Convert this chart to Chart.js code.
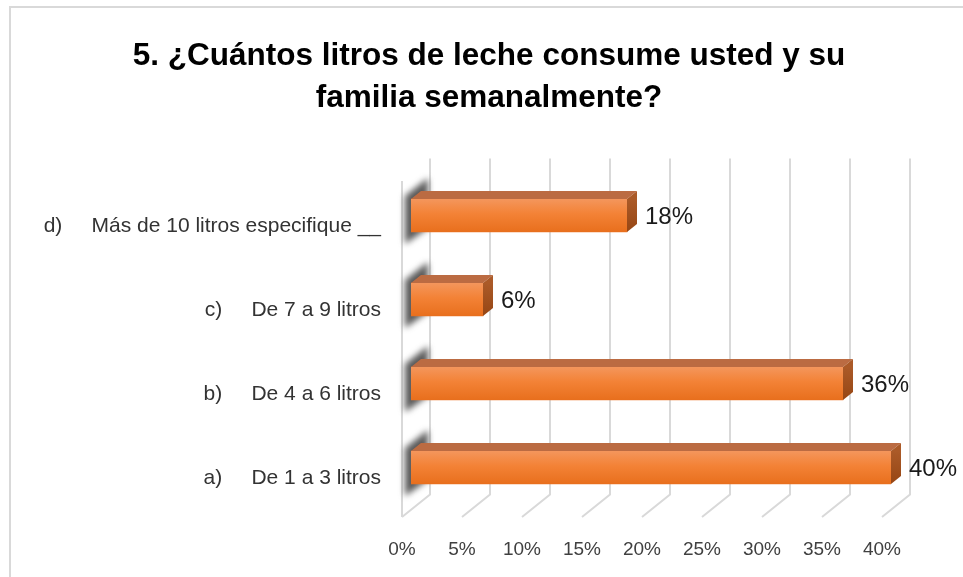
<!DOCTYPE html>
<html>
<head>
<meta charset="utf-8">
<script src="https://cdn.jsdelivr.net/npm/chart.js@4.4.0/dist/chart.umd.min.js"></script>
<style>
    html, body { margin: 0; padding: 0; background: #fff; }
    #wrap { width: 963px; height: 577px; position: relative; }
</style>
</head>
<body>
<div id="wrap"><canvas id="myChart"></canvas></div>
<script>
// data, top bar first
const categories = [
    "d)     Más de 10 litros especifique __",
    "c)     De 7 a 9 litros",
    "b)     De 4 a 6 litros",
    "a)     De 1 a 3 litros",
];
const values = [18, 6, 36, 40];
const xTicks = [0, 5, 10, 15, 20, 25, 30, 35, 40];
const titleLines = ["5. ¿Cuántos litros de leche consume usted y su", "familia semanalmente?"];

const FONT = "'Liberation Sans', Arial, sans-serif";
// 3d offsets, relative to the plane of the bars' front faces
const FRONT = { dx: -9, dy: 7.5 };
const BACK = { dx: 19, dy: -15 };
const DEPTH = { dx: 10, dy: -8 };

const box3d = {
    id: "box3d",
    beforeDraw(chart) {
        const ctx = chart.ctx;
        ctx.save();
        ctx.strokeStyle = "#d9d9d9";
        ctx.lineWidth = 2;
        ctx.beginPath();
        ctx.moveTo(963, 7);
        ctx.lineTo(10, 7);
        ctx.lineTo(10, 577);
        ctx.stroke();

        // title, centred on the whole frame rather than the plot
        ctx.fillStyle = "#000000";
        ctx.font = "bold 31.5px " + FONT;
        ctx.textAlign = "center";
        ctx.textBaseline = "middle";
        titleLines.forEach((t, i) => {
            ctx.fillText(t, 489, 56 + i * 42);
        });
        ctx.restore();
    },
    beforeDatasetsDraw(chart) {
        const ctx = chart.ctx;
        const ca = chart.chartArea;
        const xs = chart.scales.x;
        ctx.save();
        ctx.strokeStyle = "#d9d9d9";
        ctx.lineWidth = 2;
        // back wall + floor grid
        xTicks.forEach((v) => {
            const px = xs.getPixelForValue(v);
            ctx.beginPath();
            ctx.moveTo(px + BACK.dx, ca.top + BACK.dy);
            ctx.lineTo(px + BACK.dx, ca.bottom + BACK.dy);
            ctx.lineTo(px + FRONT.dx, ca.bottom + FRONT.dy);
            ctx.stroke();
        });
        // left wall front edge
        ctx.beginPath();
        ctx.moveTo(ca.left + FRONT.dx, ca.top + FRONT.dy);
        ctx.lineTo(ca.left + FRONT.dx, ca.bottom + FRONT.dy);
        ctx.stroke();

        // bar shadows on the left wall
        const meta = chart.getDatasetMeta(0);
        ctx.filter = "blur(3px)";
        ctx.fillStyle = "rgba(60,60,60,0.85)";
        meta.data.forEach((el) => {
            const top = el.y - el.height / 2;
            const bottom = el.y + el.height / 2;
            const l = el.base - 6;
            const r = el.base + 17;
            ctx.beginPath();
            ctx.moveTo(l, top - 3);
            ctx.lineTo(r, top - 21);
            ctx.lineTo(r, bottom - 4);
            ctx.lineTo(l, bottom + 12);
            ctx.closePath();
            ctx.fill();
        });
        ctx.filter = "none";
        ctx.restore();
    },
    afterDatasetsDraw(chart) {
        const ctx = chart.ctx;
        const meta = chart.getDatasetMeta(0);
        ctx.save();
        meta.data.forEach((el, i) => {
            const top = el.y - el.height / 2;
            const bottom = el.y + el.height / 2;
            const x0 = el.base;
            const x1 = el.x;

            // top face
            ctx.fillStyle = "#bb6b42";
            ctx.beginPath();
            ctx.moveTo(x0, top);
            ctx.lineTo(x1, top);
            ctx.lineTo(x1 + DEPTH.dx, top + DEPTH.dy);
            ctx.lineTo(x0 + DEPTH.dx, top + DEPTH.dy);
            ctx.closePath();
            ctx.fill();

            // right face
            const sg = ctx.createLinearGradient(0, top, 0, bottom);
            sg.addColorStop(0, "#ab5a28");
            sg.addColorStop(1, "#964614");
            ctx.fillStyle = sg;
            ctx.beginPath();
            ctx.moveTo(x1, top);
            ctx.lineTo(x1 + DEPTH.dx, top + DEPTH.dy);
            ctx.lineTo(x1 + DEPTH.dx, bottom + DEPTH.dy);
            ctx.lineTo(x1, bottom);
            ctx.closePath();
            ctx.fill();

            // front face
            const fg = ctx.createLinearGradient(0, top, 0, bottom);
            fg.addColorStop(0, "#f4965c");
            fg.addColorStop(0.45, "#f38236");
            fg.addColorStop(1, "#e86f1d");
            ctx.fillStyle = fg;
            ctx.fillRect(x0, top, x1 - x0, bottom - top);

            // value label
            ctx.fillStyle = "#1a1a1a";
            ctx.font = "24px " + FONT;
            ctx.textAlign = "left";
            ctx.textBaseline = "middle";
            ctx.fillText(values[i] + "%", x1 + 18, el.y + 2);
        });
        ctx.restore();
    },
};

let ctx = document.getElementById("myChart");
let myChart = new Chart(ctx, {
    type: "bar",
    data: {
        labels: categories,
        datasets: [
            {
                label: "Porcentaje",
                data: values,
                backgroundColor: "#f07a2c",
                borderWidth: 0,
                barThickness: 33,
            },
        ],
    },
    options: {
        indexAxis: "y",
        responsive: true,
        maintainAspectRatio: false,
        animation: false,
        devicePixelRatio: 1,
        layout: {
            padding: { left: 10, right: 72, top: 173.5, bottom: 0 },
        },
        plugins: {
            legend: { display: false },
            tooltip: { enabled: false },
            title: { display: false },
        },
        scales: {
            x: {
                min: 0,
                max: 40,
                afterBuildTicks: (s) => {
                    s.ticks = xTicks.map((v) => ({ value: v }));
                },
                afterFit: (s) => {
                    s.height = 67.5;
                },
                grid: { display: false, drawTicks: false },
                border: { display: false },
                ticks: {
                    callback: (v) => v + "%",
                    color: "#404040",
                    font: { family: FONT, size: 19 },
                    padding: 29,
                    labelOffset: -9,
                    maxRotation: 0,
                },
            },
            y: {
                afterFit: (s) => {
                    s.width = 401;
                },
                grid: { display: false, drawTicks: false },
                border: { display: false },
                ticks: {
                    color: "#333333",
                    font: { family: FONT, size: 21 },
                    padding: 30,
                    labelOffset: 11,
                },
            },
        },
    },
    plugins: [box3d],
});
</script>
</body>
</html>
